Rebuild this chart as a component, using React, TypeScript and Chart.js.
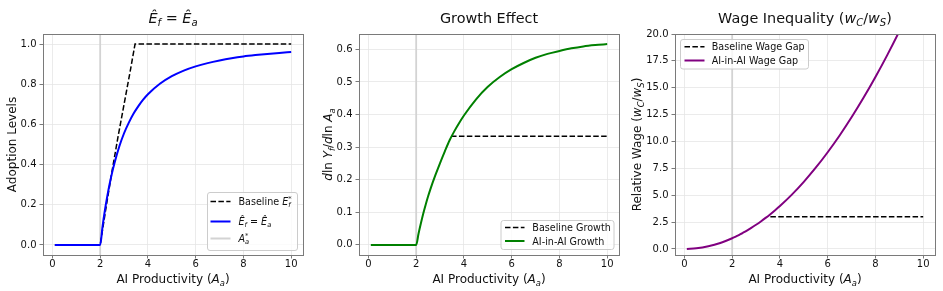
import React, { useEffect, useRef } from 'react';
import { Chart, registerables } from 'chart.js';

Chart.register(...registerables);

const W = 943;
const H = 291;
const FONT = '"DejaVu Sans", sans-serif';
const INK = '#111111';
const SPINE = '#7a7a7a';
const GRID = '#e6e6e6';

// ---- data -------------------------------------------------------------
const A_GRID = [
  0.1, 0.5, 1.0, 1.5, 2.0, 2.1, 2.2, 2.3, 2.4, 2.5, 2.6, 2.8, 3.0, 3.2, 3.4,
  3.6, 3.8, 4.0, 4.5, 5.0, 5.5, 6.0, 6.5, 7.0, 7.5, 8.0, 8.5, 9.0, 9.5, 10.0,
];
const ADOPTION_AI = [
  0, 0, 0, 0, 0, 0.093, 0.174, 0.244, 0.306, 0.36, 0.408, 0.49, 0.556, 0.609,
  0.654, 0.691, 0.723, 0.75, 0.802, 0.84, 0.868, 0.889, 0.905, 0.918, 0.929,
  0.938, 0.945, 0.951, 0.956, 0.96,
];
const GROWTH_AI = [
  0, 0, 0, 0, 0, 0.035, 0.067, 0.097, 0.124, 0.149, 0.172, 0.213, 0.251, 0.287,
  0.321, 0.349, 0.374, 0.397, 0.446, 0.485, 0.515, 0.539, 0.558, 0.574, 0.586,
  0.595, 0.603, 0.609, 0.613, 0.616,
];
const WAGE_AI = [
  0.003, 0.06, 0.25, 0.56, 1.0, 1.1, 1.21, 1.32, 1.44, 1.56, 1.69, 1.96, 2.25,
  2.56, 2.89, 3.24, 3.61, 4.0, 5.06, 6.25, 7.56, 9.0, 10.56, 12.25, 14.06, 16.0,
  18.06, 20.25, 22.56, 25.0,
];
const BASE_ADOPT_X = [0.1, 2.0, 2.25, 2.5, 2.75, 3.0, 3.25, 3.46, 10.0];
const BASE_ADOPT_Y = [0, 0, 0.19, 0.37, 0.54, 0.7, 0.86, 1.0, 1.0];
const BASE_GROWTH_X = [3.46, 10.0];
const BASE_GROWTH_Y = [0.333, 0.333];
const BASE_WAGE_X = [3.6, 10.0];
const BASE_WAGE_Y = [3.0, 3.0];
const A_STAR = 2.0;

const X_TICKS = [0, 2, 4, 6, 8, 10];
const Y_TICKS_ADOPT = [0, 0.2, 0.4, 0.6, 0.8, 1.0];
const Y_TICKS_GROWTH = [0, 0.1, 0.2, 0.3, 0.4, 0.5, 0.6];
const Y_TICKS_WAGE = [0, 2.5, 5, 7.5, 10, 12.5, 15, 17.5, 20];

// ---- rich (math-like) text ---------------------------------------------
type Seg = { t: string; it?: boolean; sub?: boolean; sup?: boolean; stack?: boolean };

const XLABEL: Seg[] = [{ t: 'AI Productivity (' }, { t: 'A', it: true }, { t: 'a', it: true, sub: true }, { t: ')' }];
const E_HAT_EQ: Seg[] = [
  { t: 'Ê', it: true }, { t: 'f', it: true, sub: true }, { t: ' = ' },
  { t: 'Ê', it: true }, { t: 'a', it: true, sub: true },
];
const WAGE_RATIO: Seg[] = [
  { t: 'w', it: true }, { t: 'C', it: true, sub: true }, { t: '/' },
  { t: 'w', it: true }, { t: 'S', it: true, sub: true },
];
const TITLE_GROWTH: Seg[] = [{ t: 'Growth Effect' }];
const TITLE_WAGE: Seg[] = [{ t: 'Wage Inequality (' }, ...WAGE_RATIO, { t: ')' }];
const YLABEL_ADOPT: Seg[] = [{ t: 'Adoption Levels' }];
const YLABEL_GROWTH: Seg[] = [
  { t: 'd', it: true }, { t: 'ln ' }, { t: 'Y', it: true }, { t: 'f', it: true, sub: true },
  { t: '/' }, { t: 'd', it: true }, { t: 'ln ' }, { t: 'A', it: true }, { t: 'a', it: true, sub: true },
];
const YLABEL_WAGE: Seg[] = [{ t: 'Relative Wage (' }, ...WAGE_RATIO, { t: ')' }];
const LEG_BASE_ADOPT: Seg[] = [
  { t: 'Baseline ' }, { t: 'E', it: true }, { t: 'f', it: true, sub: true }, { t: '*', sup: true, stack: true },
];
const LEG_A_STAR: Seg[] = [{ t: 'A', it: true }, { t: 'a', it: true, sub: true }, { t: '*', sup: true, stack: true }];

function segFont(size: number, s: Seg) {
  const sz = s.sub || s.sup ? size * 0.7 : size;
  return `${s.it ? 'italic ' : ''}${sz}px ${FONT}`;
}

function drawRich(ctx: CanvasRenderingContext2D, segs: Seg[], size: number, x: number, y: number, center: boolean) {
  const items: { t: string; x: number; dy: number; font: string }[] = [];
  let cur = 0;
  let prevStart = 0;
  let prevEnd = 0;
  for (const s of segs) {
    const font = segFont(size, s);
    ctx.font = font;
    const w = ctx.measureText(s.t).width;
    const sx = s.stack ? prevStart : cur;
    const dy = s.sub ? size * 0.22 : s.sup ? -size * 0.42 : 0;
    items.push({ t: s.t, x: sx, dy, font });
    const end = sx + w;
    cur = s.stack ? Math.max(prevEnd, end) : end;
    prevStart = sx;
    prevEnd = end;
  }
  const off = center ? -cur / 2 : 0;
  ctx.textAlign = 'left';
  ctx.textBaseline = 'alphabetic';
  for (const it of items) {
    ctx.font = it.font;
    ctx.fillText(it.t, x + off + it.x, y + it.dy);
  }
}

// ---- panel layout ------------------------------------------------------
type Series = { xs: number[]; ys: number[]; color: string; width: number; dash?: number[]; smooth?: boolean };
type LegendItem = { color: string; width: number; dash?: number[]; label: Seg[] };
type Panel = {
  area: { l: number; t: number; r: number; b: number };
  yMin: number;
  yMax: number;
  yTicks: number[];
  title: Seg[];
  ylabel: Seg[];
  ylabelX: number;
  series: Series[];
  legend: { x: number; y: number; w: number; h: number; rows: number[]; hx0: number; hx1: number; tx: number; items: LegendItem[] };
};

const X_MIN = -0.395;
const X_MAX = 10.495;
const DASH = [5.5, 2.4];
const VLINE = '#d3d3d3';

const PANELS: Panel[] = [
  {
    area: { l: 43, t: 34, r: 303, b: 255 },
    yMin: -0.05,
    yMax: 1.05,
    yTicks: Y_TICKS_ADOPT,
    title: E_HAT_EQ,
    ylabel: YLABEL_ADOPT,
    ylabelX: 16,
    series: [
      { xs: A_GRID, ys: ADOPTION_AI, color: '#0000ff', width: 2, smooth: true },
      { xs: BASE_ADOPT_X, ys: BASE_ADOPT_Y, color: '#000000', width: 1.5, dash: DASH },
    ],
    legend: {
      x: 207.5, y: 192.5, w: 90, h: 58, rows: [201.5, 221.5, 238.5], hx0: 210.5, hx1: 230.5, tx: 238.5,
      items: [
        { color: '#000000', width: 1.5, dash: DASH, label: LEG_BASE_ADOPT },
        { color: '#0000ff', width: 2, label: E_HAT_EQ },
        { color: VLINE, width: 2, label: LEG_A_STAR },
      ],
    },
  },
  {
    area: { l: 359, t: 34, r: 619, b: 255 },
    yMin: -0.031,
    yMax: 0.647,
    yTicks: Y_TICKS_GROWTH,
    title: TITLE_GROWTH,
    ylabel: YLABEL_GROWTH,
    ylabelX: 332,
    series: [
      { xs: A_GRID, ys: GROWTH_AI, color: '#008000', width: 2, smooth: true },
      { xs: BASE_GROWTH_X, ys: BASE_GROWTH_Y, color: '#000000', width: 1.5, dash: DASH },
    ],
    legend: {
      x: 501, y: 220.5, w: 113, h: 29, rows: [227.5, 241], hx0: 505, hx1: 524.5, tx: 532.3,
      items: [
        { color: '#000000', width: 1.5, dash: DASH, label: [{ t: 'Baseline Growth' }] },
        { color: '#008000', width: 2, label: [{ t: 'AI-in-AI Growth' }] },
      ],
    },
  },
  {
    area: { l: 675, t: 34, r: 935, b: 255 },
    yMin: -0.56,
    yMax: 20,
    yTicks: Y_TICKS_WAGE,
    title: TITLE_WAGE,
    ylabel: YLABEL_WAGE,
    ylabelX: 641,
    series: [
      { xs: A_GRID, ys: WAGE_AI, color: '#800080', width: 2, smooth: true },
      { xs: BASE_WAGE_X, ys: BASE_WAGE_Y, color: '#000000', width: 1.5, dash: DASH },
    ],
    legend: {
      x: 680.5, y: 39.5, w: 128, h: 29.5, rows: [46.7, 60.5], hx0: 684.5, hx1: 704.5, tx: 711.7,
      items: [
        { color: '#000000', width: 1.5, dash: DASH, label: [{ t: 'Baseline Wage Gap' }] },
        { color: '#800080', width: 2, label: [{ t: 'AI-in-AI Wage Gap' }] },
      ],
    },
  },
];

function roundRect(ctx: CanvasRenderingContext2D, x: number, y: number, w: number, h: number, r: number) {
  ctx.beginPath();
  ctx.moveTo(x + r, y);
  ctx.lineTo(x + w - r, y);
  ctx.arcTo(x + w, y, x + w, y + r, r);
  ctx.lineTo(x + w, y + h - r);
  ctx.arcTo(x + w, y + h, x + w - r, y + h, r);
  ctx.lineTo(x + r, y + h);
  ctx.arcTo(x, y + h, x, y + h - r, r);
  ctx.lineTo(x, y + r);
  ctx.arcTo(x, y, x + r, y, r);
  ctx.closePath();
}

function decorPlugin(p: Panel) {
  return {
    id: 'decor',
    afterDraw(chart: Chart) {
      const ctx = chart.ctx;
      const a = chart.chartArea;
      ctx.save();
      // axes frame
      ctx.strokeStyle = SPINE;
      ctx.lineWidth = 1;
      ctx.setLineDash([]);
      ctx.strokeRect(a.left + 0.5, a.top + 0.5, a.right - a.left, a.bottom - a.top);

      // legend
      const lg = p.legend;
      roundRect(ctx, lg.x, lg.y, lg.w, lg.h, 2.5);
      ctx.fillStyle = 'rgba(255,255,255,0.8)';
      ctx.fill();
      ctx.strokeStyle = '#cccccc';
      ctx.lineWidth = 1;
      ctx.stroke();
      lg.items.forEach((item, i) => {
        const ry = lg.rows[i];
        ctx.beginPath();
        ctx.strokeStyle = item.color;
        ctx.lineWidth = item.width;
        ctx.setLineDash(item.dash || []);
        ctx.moveTo(lg.hx0, ry);
        ctx.lineTo(lg.hx1, ry);
        ctx.stroke();
        ctx.setLineDash([]);
        ctx.fillStyle = INK;
        drawRich(ctx, item.label, 9.6, lg.tx, ry + 3.5, false);
      });

      // titles and axis labels
      const cx = (a.left + a.right) / 2;
      const cy = (a.top + a.bottom) / 2;
      ctx.fillStyle = INK;
      drawRich(ctx, p.title, 14.4, cx, 22.5, true);
      drawRich(ctx, XLABEL, 12, cx, 283.3, true);
      ctx.translate(p.ylabelX, cy);
      ctx.rotate(-Math.PI / 2);
      drawRich(ctx, p.ylabel, 12, 0, 0, true);
      ctx.restore();
    },
  };
}

function buildChart(canvas: HTMLCanvasElement, p: Panel) {
  const yAxisW = 45;
  const xAxisH = 25;
  const datasets: any[] = p.series.map((s) => ({
    data: s.xs.map((x, k) => ({ x, y: s.ys[k] })),
    showLine: true,
    pointRadius: 0,
    pointHoverRadius: 0,
    borderColor: s.color,
    borderWidth: s.width,
    borderDash: s.dash || [],
    cubicInterpolationMode: s.smooth ? 'monotone' : 'default',
    tension: 0,
    fill: false,
    clip: 0,
  }));
  // threshold A_a* marker spanning the full height
  datasets.push({
    data: [{ x: A_STAR, y: p.yMin }, { x: A_STAR, y: p.yMax }],
    showLine: true,
    pointRadius: 0,
    borderColor: VLINE,
    borderWidth: 1.8,
    fill: false,
    clip: 0,
  });

  const tickFont = { family: FONT, size: 10 };
  return new Chart(canvas, {
    type: 'scatter',
    data: { datasets },
    options: {
      animation: false,
      responsive: false,
      devicePixelRatio: 1,
      events: [],
      layout: {
        padding: {
          left: p.area.l - yAxisW,
          right: W - p.area.r,
          top: p.area.t,
          bottom: H - p.area.b - xAxisH,
        },
      },
      plugins: {
        legend: { display: false },
        tooltip: { enabled: false },
        title: { display: false },
      },
      scales: {
        x: {
          type: 'linear',
          position: 'bottom',
          min: X_MIN,
          max: X_MAX,
          afterBuildTicks: (ax: any) => {
            ax.ticks = X_TICKS.map((v) => ({ value: v }));
          },
          afterFit: (s: any) => {
            s.height = xAxisH;
          },
          ticks: {
            autoSkip: false,
            maxRotation: 0,
            color: INK,
            font: tickFont,
            padding: 0,
            callback: (v: any) => String(v),
          },
          grid: { color: GRID, lineWidth: 0.8, tickColor: SPINE, tickLength: 3.5, tickWidth: 1 },
          border: { display: false },
        },
        y: {
          type: 'linear',
          position: 'left',
          min: p.yMin,
          max: p.yMax,
          afterBuildTicks: (ax: any) => {
            ax.ticks = p.yTicks.map((v) => ({ value: v }));
          },
          afterFit: (s: any) => {
            s.width = yAxisW;
          },
          ticks: {
            autoSkip: false,
            color: INK,
            font: tickFont,
            padding: 3,
            callback: (v: any) => Number(v).toFixed(1),
          },
          grid: { color: GRID, lineWidth: 0.8, tickColor: SPINE, tickLength: 3.5, tickWidth: 1 },
          border: { display: false },
        },
      },
    },
    plugins: [decorPlugin(p)],
  } as any);
}

export default function App() {
  const r0 = useRef<HTMLCanvasElement>(null);
  const r1 = useRef<HTMLCanvasElement>(null);
  const r2 = useRef<HTMLCanvasElement>(null);
  const refs = [r0, r1, r2];

  useEffect(() => {
    const charts = PANELS.map((p, i) => buildChart(refs[i].current as HTMLCanvasElement, p));
    return () => charts.forEach((c) => c.destroy());
  }, []);

  return (
    <div style={{ position: 'absolute', left: 0, top: 0, width: W, height: H, background: '#ffffff', overflow: 'hidden' }}>
      {PANELS.map((_, i) => (
        <canvas
          key={i}
          ref={refs[i]}
          width={W}
          height={H}
          style={{ position: 'absolute', left: 0, top: 0, width: W, height: H }}
        />
      ))}
    </div>
  );
}
